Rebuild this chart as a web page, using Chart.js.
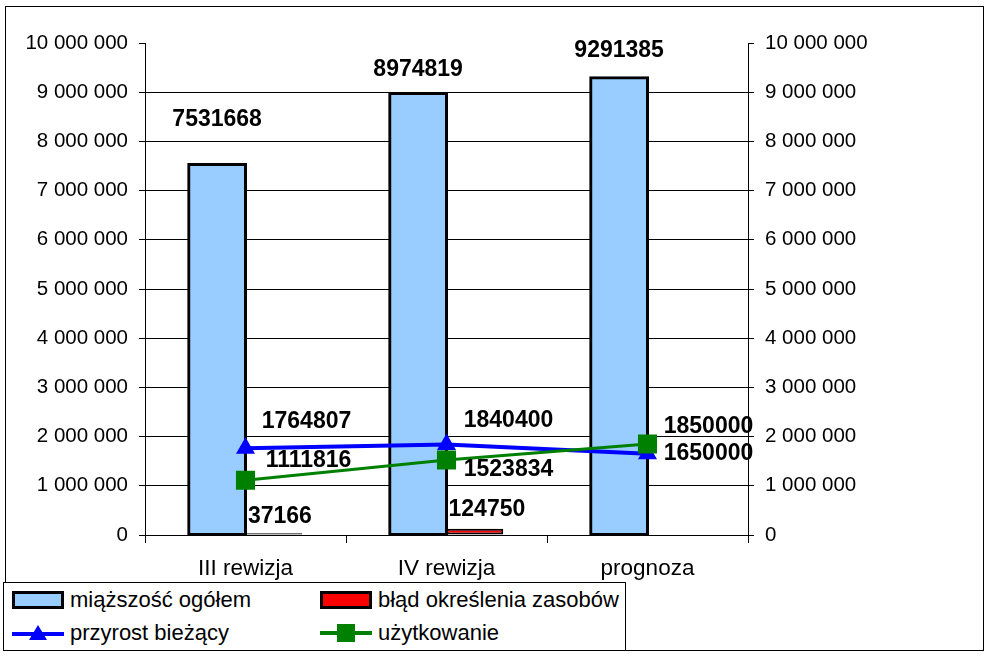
<!DOCTYPE html>
<html>
<head>
<meta charset="utf-8">
<script src="https://cdn.jsdelivr.net/npm/chart.js@4/dist/chart.umd.min.js"></script>
<style>
    body { margin: 0; background: #fff; font-family: "Liberation Sans", Arial, sans-serif; }
    #wrap { position: relative; width: 990px; height: 656px; }
    #chart { position: absolute; left: 0; top: 0; }
    #frame { position: absolute; left: 5px; top: 6px; width: 977px; height: 643px; border: 1.5px solid #000; pointer-events: none; }
    #legend { position: absolute; left: 3px; top: 582px; width: 621px; height: 67px; border: 1px solid #000; background: #fff; font-size: 22px; color: #000; }
    .item { position: absolute; display: flex; align-items: center; height: 26px; }
    .item svg { margin-right: 6px; }
</style>
</head>
<body>
<div id="wrap">
    <canvas id="chart" width="990" height="656"></canvas>
    <div id="frame"></div>
    <div id="legend">
        <div class="item" style="left:8px; top:4px;">
            <svg width="52" height="20"><rect x="1.5" y="2.5" width="49" height="15" fill="#99CCFF" stroke="#000" stroke-width="3"/></svg>miąższość ogółem
        </div>
        <div class="item" style="left:316px; top:4px;">
            <svg width="52" height="20"><rect x="1.5" y="2.5" width="49" height="15" fill="#FF0000" stroke="#000" stroke-width="3"/></svg>błąd określenia zasobów
        </div>
        <div class="item" style="left:8px; top:37px;">
            <svg width="52" height="20"><line x1="0" y1="11" x2="52" y2="11" stroke="#0000FF" stroke-width="4"/><polygon points="26,2 35,17 17,17" fill="#0000FF"/></svg>przyrost bieżący
        </div>
        <div class="item" style="left:316px; top:37px;">
            <svg width="52" height="20"><line x1="0" y1="10" x2="52" y2="10" stroke="#008000" stroke-width="4"/><rect x="17" y="1" width="18" height="18" fill="#008000"/></svg>użytkowanie
        </div>
    </div>
</div>
<script>
// Chart data
const categories = ['III rewizja', 'IV rewizja', 'prognoza'];
const miazszosc = [7531668, 8974819, 9291385];
const blad = [37166, 124750, null];
const przyrost = [1764807, 1840400, 1650000];
const uzytkowanie = [1111816, 1523834, 1850000];
const yTicks = [0, 1000000, 2000000, 3000000, 4000000, 5000000, 6000000, 7000000, 8000000, 9000000, 10000000];

// label offsets (dx, dy) relative to each mark, per dataset
const labelOffsets = [
    [[0, -45], [0, -24], [0, -27]],
    [[6, -17], [12, -19], [0, 0]],
    [[61, -27], [62, -24], [61, 0]],
    [[63, -20], [62, 10], [61, -17]]
];

function fmt(v) {
    return String(v).replace(/\B(?=(\d{3})+(?!\d))/g, ' ');
}

const font = '"Liberation Sans", Arial, sans-serif';

const valueLabels = {
    id: 'valueLabels',
    afterDatasetsDraw(chart) {
        const ctx = chart.ctx;
        ctx.save();
        ctx.font = 'bold 23px ' + font;
        ctx.fillStyle = '#000';
        ctx.textAlign = 'center';
        ctx.textBaseline = 'middle';
        chart.data.datasets.forEach((ds, i) => {
            const meta = chart.getDatasetMeta(i);
            meta.data.forEach((el, j) => {
                const v = ds.data[j];
                if (v == null) return;
                const off = labelOffsets[i][j];
                ctx.fillText(String(v), el.x + off[0], el.y + off[1]);
            });
        });
        ctx.restore();
    }
};

const ctx = document.getElementById('chart').getContext('2d');
new Chart(ctx, {
    type: 'bar',
    data: {
        labels: categories,
        datasets: [
            {
                label: 'miąższość ogółem',
                data: miazszosc,
                backgroundColor: '#99CCFF',
                borderColor: '#000',
                borderWidth: 3,
                borderSkipped: false,
                inflateAmount: 1.5,
                categoryPercentage: 0.565,
                barPercentage: 1.0,
                order: 2
            },
            {
                label: 'błąd określenia zasobów',
                data: blad,
                backgroundColor: '#FF0000',
                borderColor: '#000',
                borderWidth: 2,
                borderSkipped: false,
                inflateAmount: 0,
                categoryPercentage: 0.565,
                barPercentage: 1.0,
                order: 2
            },
            {
                type: 'line',
                label: 'przyrost bieżący',
                data: przyrost,
                borderColor: '#0000FF',
                backgroundColor: '#0000FF',
                borderWidth: 4,
                pointStyle: 'triangle',
                pointRadius: 11,
                pointBorderWidth: 0,
                tension: 0,
                order: 1
            },
            {
                type: 'line',
                label: 'użytkowanie',
                data: uzytkowanie,
                borderColor: '#008000',
                backgroundColor: '#008000',
                borderWidth: 3,
                pointStyle: 'rect',
                pointRadius: 13.5,
                pointBorderWidth: 0,
                tension: 0,
                order: 0
            }
        ]
    },
    options: {
        responsive: false,
        animation: false,
        layout: { padding: { top: 43, right: 0, left: 0, bottom: 0 } },
        plugins: {
            legend: { display: false },
            tooltip: { enabled: false }
        },
        scales: {
            x: {
                offset: true,
                grid: { offset: true, drawOnChartArea: false, tickLength: 8, tickColor: '#000', tickWidth: 1 },
                border: { display: true, color: '#000', width: 1 },
                ticks: { color: '#000', font: { family: font, size: 22.5 }, padding: 12 },
                afterFit(scale) { scale.height = 121; }
            },
            y: {
                position: 'left',
                min: 0,
                max: 10000000,
                afterBuildTicks(scale) { scale.ticks = yTicks.map(v => ({ value: v })); },
                grid: {
                    color: c => (c.tick && c.tick.value === 10000000) ? 'rgba(0,0,0,0)' : '#000',
                    tickColor: '#000',
                    tickLength: 6,
                    lineWidth: 1
                },
                border: { display: true, color: '#000', width: 1 },
                ticks: { color: '#000', font: { family: font, size: 20.5 }, padding: 11, callback: v => fmt(v) },
                afterFit(scale) { scale.width = 145; }
            },
            y1: {
                position: 'right',
                min: 0,
                max: 10000000,
                afterBuildTicks(scale) { scale.ticks = yTicks.map(v => ({ value: v })); },
                grid: { drawOnChartArea: false, tickColor: '#000', tickLength: 6 },
                border: { display: true, color: '#000', width: 1 },
                ticks: { color: '#000', font: { family: font, size: 20.5 }, padding: 11, callback: v => fmt(v) },
                afterFit(scale) { scale.width = 242; }
            }
        }
    },
    plugins: [valueLabels]
});
</script>
</body>
</html>
